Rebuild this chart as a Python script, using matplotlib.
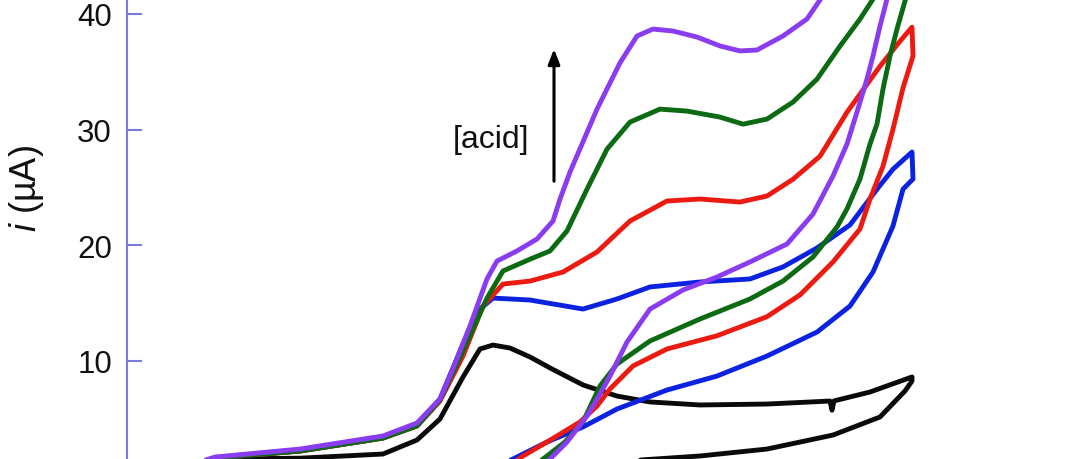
import matplotlib
matplotlib.use('Agg')
import matplotlib.pyplot as plt

plt.rcParams['font.family'] = ['Liberation Sans', 'DejaVu Sans']
plt.rcParams['mathtext.fontset'] = 'custom'
plt.rcParams['mathtext.it'] = 'Liberation Sans:italic'
plt.rcParams['mathtext.rm'] = 'Liberation Sans'

# ---- data: potential E (V) and current i (uA), full CV loops ----
black_E = [-1.874, -1.824, -1.654, -1.488, -1.420, -1.374, -1.328, -1.294, -1.268, -1.234,
           -1.194, -1.154, -1.088, -1.020, -0.954, -0.854, -0.720, -0.594, -0.590, -0.586,
           -0.514, -0.430, -0.430, -0.444, -0.494, -0.588, -0.720, -0.854, -0.974, -1.094]
black_i = [1.0, 1.53, 1.60, 1.96, 3.17, 4.99, 8.62, 11.04, 11.38, 11.12,
           10.35, 9.40, 7.93, 6.97, 6.46, 6.20, 6.28, 6.54, 5.75, 6.55,
           7.32, 8.62, 8.27, 7.41, 5.16, 3.60, 2.39, 1.79, 1.44, 1.10]

blue_E = [-1.874, -1.824, -1.654, -1.488, -1.420, -1.374, -1.328, -1.294, -1.268, -1.194,
          -1.088, -1.020, -0.954, -0.854, -0.754, -0.688, -0.620, -0.554, -0.500, -0.468,
          -0.430, -0.428, -0.448, -0.468, -0.508, -0.554, -0.620, -0.720, -0.820, -0.920,
          -1.020, -1.088, -1.160, -1.228, -1.274]
blue_i = [1.0, 1.62, 2.22, 3.34, 4.47, 6.72, 11.47, 14.49, 15.44, 15.27,
          14.49, 15.36, 16.40, 16.83, 17.09, 18.13, 19.77, 21.76, 24.85, 26.58,
          28.06, 25.73, 24.85, 21.67, 17.69, 14.75, 12.50, 10.43, 8.70, 7.49,
          5.85, 4.30, 3.00, 1.53, 0.67]

red_E = [-1.874, -1.824, -1.654, -1.488, -1.420, -1.374, -1.328, -1.288, -1.248, -1.194,
         -1.128, -1.060, -0.994, -0.920, -0.854, -0.774, -0.720, -0.668, -0.614, -0.560,
         -0.494, -0.454, -0.430, -0.428, -0.448, -0.468, -0.488, -0.514, -0.534, -0.588,
         -0.654, -0.720, -0.820, -0.920, -0.988, -1.034, -1.060, -1.094, -1.160, -1.208,
         -1.244]
red_i = [1.0, 1.62, 2.22, 3.34, 4.38, 6.54, 10.43, 14.75, 16.65, 16.91,
         17.69, 19.42, 22.10, 23.83, 24.00, 23.74, 24.26, 25.71, 27.70, 31.50,
         35.48, 37.64, 38.85, 36.36, 33.60, 30.04, 26.84, 24.00, 21.41, 18.56,
         15.71, 13.83, 12.18, 11.04, 9.57, 7.58, 6.11, 4.73, 3.00, 1.79,
         0.67]

green_E = [-1.874, -1.824, -1.654, -1.488, -1.420, -1.374, -1.328, -1.280, -1.248, -1.194,
           -1.154, -1.120, -1.080, -1.040, -0.994, -0.934, -0.880, -0.814, -0.768, -0.720,
           -0.668, -0.620, -0.574, -0.534, -0.504, -0.454, -0.430, -0.440, -0.460, -0.474,
           -0.488, -0.500, -0.514, -0.534, -0.560, -0.580, -0.628, -0.688, -0.754, -0.854,
           -0.954, -1.020, -1.054, -1.088, -1.124, -1.160, -1.194]
green_i = [1.0, 1.62, 2.22, 3.34, 4.38, 6.63, 10.86, 15.44, 17.78, 18.80,
           19.51, 21.24, 24.85, 28.31, 30.65, 31.77, 31.60, 31.08, 30.47, 30.91,
           32.38, 34.36, 37.22, 39.55, 41.55, 44.32, 45.18, 41.72, 38.69, 36.36,
           33.51, 30.48, 28.75, 25.73, 23.14, 21.58, 18.99, 16.91, 15.36, 13.63,
           11.73, 9.74, 7.84, 4.73, 3.00, 1.79, 0.67]

purple_E = [-1.874, -1.824, -1.654, -1.488, -1.420, -1.374, -1.354, -1.314, -1.280, -1.260,
            -1.220, -1.180, -1.148, -1.134, -1.114, -1.060, -1.014, -0.980, -0.948, -0.908,
            -0.860, -0.814, -0.774, -0.740, -0.688, -0.640, -0.610, -0.554, -0.494, -0.430,
            -0.444, -0.468, -0.480, -0.494, -0.508, -0.520, -0.540, -0.560, -0.588, -0.628,
            -0.680, -0.754, -0.820, -0.888, -0.954, -1.000, -1.034, -1.054, -1.080, -1.120,
            -1.154, -1.184]
purple_i = [1.0, 1.70, 2.39, 3.52, 4.64, 6.72, 8.70, 13.03, 17.09, 18.64,
            19.51, 20.54, 22.10, 23.99, 26.33, 31.77, 35.77, 38.09, 38.69, 38.52,
            38.00, 37.23, 36.80, 36.88, 38.09, 39.56, 41.46, 44.74, 48.20, 50.80,
            46.47, 43.45, 41.29, 38.95, 36.36, 34.37, 31.52, 28.75, 25.99, 22.70,
            20.11, 18.56, 17.26, 16.14, 14.49, 11.64, 8.70, 7.15, 5.25, 3.00,
            1.53, 0.49]

y_ticks = [0, 10, 20, 30, 40]
arrow_E = -1.146
arrow_i = (25.54, 36.97)
label_E, label_i = -1.272, 29.2

series = [
    (black_E, black_i, '#0a0a0a'),
    (blue_E, blue_i, '#0b22e0'),
    (red_E, red_i, '#ec1b12'),
    (green_E, green_i, '#0b6a12'),
    (purple_E, purple_i, '#8a3cf0'),
]

fig = plt.figure(figsize=(10.8, 4.6), dpi=100)
px_per_uA = 11.57
ax = fig.add_axes([127 / 1080, -17.7 / 460, 953 / 1080, 42 * px_per_uA / 460])
ax.set_xlim(-2.0, -0.094)
ax.set_ylim(0, 42)

for E, i, c in series:
    ax.plot(E, i, color=c, lw=3.5, solid_joinstyle='round', solid_capstyle='round')

axis_col = '#7a7ad8'
for s in ['top', 'right', 'bottom']:
    ax.spines[s].set_visible(False)
ax.spines['left'].set_color(axis_col)
ax.spines['left'].set_linewidth(1.5)
ax.set_xticks([])
ax.set_yticks(y_ticks)
ax.tick_params(axis='y', direction='in', length=10.8, width=1.5, color=axis_col,
               pad=10.8, labelsize=22.5, labelcolor='#111111')

ax.annotate('', xy=(arrow_E, arrow_i[1]), xytext=(arrow_E, arrow_i[0]),
            arrowprops=dict(arrowstyle='-|>,head_length=0.9,head_width=0.35',
                            color='black', lw=2.2, shrinkA=0, shrinkB=0))
ax.text(label_E, label_i, '[acid]', fontsize=23, ha='center', va='center', color='#111111')

fig.text(27 / 1080, 1 - 189 / 460, r'$i$ (µA)', rotation=90, fontsize=26,
         ha='center', va='center', color='#111111')

fig.savefig('out.png', dpi=100)
